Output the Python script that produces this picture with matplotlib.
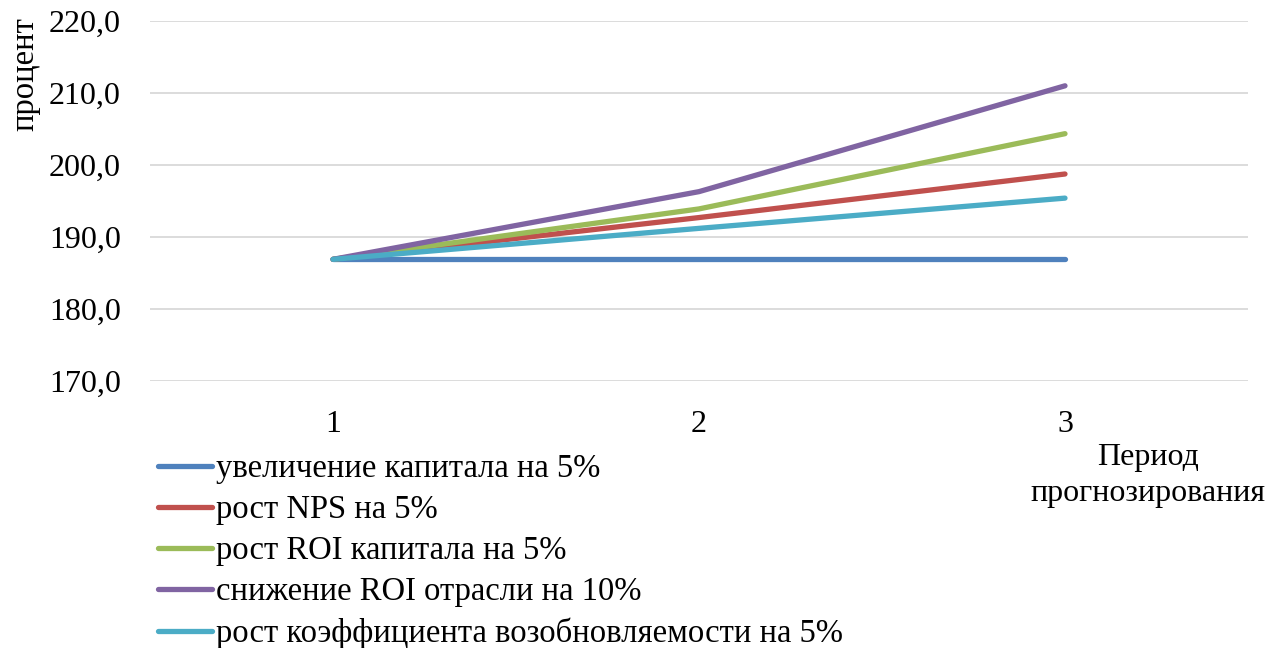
import matplotlib.pyplot as plt

# Периоды прогнозирования и сценарии
periods = [1, 2, 3]
series_names = [
    "увеличение капитала на 5%",
    "рост NPS на 5%",
    "рост ROI капитала на 5%",
    "снижение ROI отрасли на 10%",
    "рост коэффициента возобновляемости на 5%",
]
capital_up = [186.9, 186.9, 186.9]
nps_up = [186.9, 192.7, 198.75]
roi_capital_up = [186.9, 193.9, 204.35]
roi_industry_down = [186.9, 196.3, 211.0]
renewal_up = [186.9, 191.2, 195.4]

y_ticks = [170, 180, 190, 200, 210, 220]
y_tick_labels = ["170,0", "180,0", "190,0", "200,0", "210,0", "220,0"]

colors = ["#4f81bd", "#c0504d", "#9bbb59", "#8064a2", "#4bacc6"]

plt.rcParams["font.family"] = ["Liberation Serif", "DejaVu Serif"]

fig = plt.figure(figsize=(12.85, 6.48), dpi=100)
ax = fig.add_axes([150 / 1285, 1 - 381 / 648, 1098 / 1285, 360 / 648])

all_series = [capital_up, nps_up, roi_capital_up, roi_industry_down, renewal_up]
for name, vals, c in zip(series_names, all_series, colors):
    ax.plot(periods, vals, color=c, linewidth=3.8, solid_capstyle="round", label=name)

ax.set_xlim(0.5, 3.5)
ax.set_ylim(170, 220)
ax.set_yticks(y_ticks)
ax.set_yticklabels(y_tick_labels)
ax.set_xticks(periods)
ax.grid(axis="y", color="#d9d9d9", linewidth=1.3)
ax.set_axisbelow(True)
for sp in ax.spines.values():
    sp.set_visible(False)
ax.tick_params(axis="both", length=0, labelsize=23, pad=21)

# подпись оси Y сверху слева
fig.text(25 / 1285, 1 - 17 / 648, "процент", rotation=90, ha="center", va="top", fontsize=23.5)
# подпись оси X справа под осью
fig.text(1148 / 1285, 1 - 458 / 648, "Период", ha="center", va="center", fontsize=23)
fig.text(1148 / 1285, 1 - 494 / 648, "прогнозирования", ha="center", va="center", fontsize=23)

leg = fig.legend(
    loc="upper left",
    bbox_to_anchor=(158 / 1285, 1 - 454 / 648),
    frameon=False,
    fontsize=23.5,
    handlelength=1.65,
    handletextpad=0.12,
    labelspacing=0.32,
    borderaxespad=0,
    borderpad=0,
)

fig.savefig("out.png", dpi=100)
